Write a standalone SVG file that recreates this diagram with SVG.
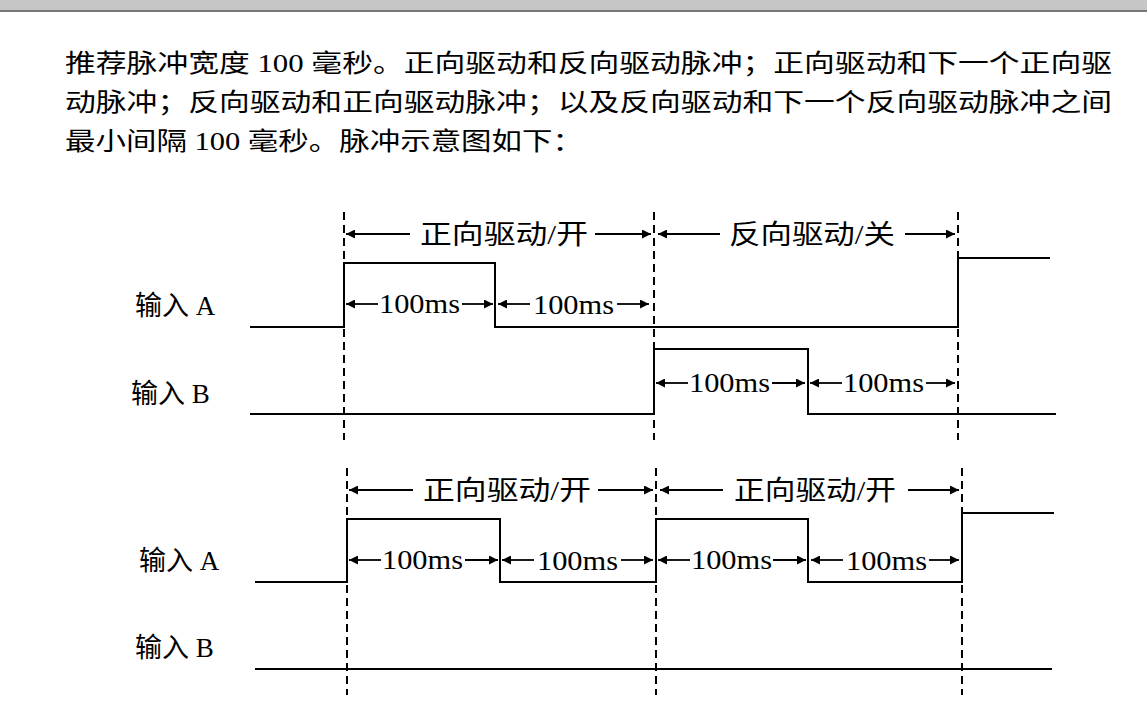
<svg xmlns="http://www.w3.org/2000/svg" width="1147" height="727" viewBox="0 0 1147 727">
<defs>
<marker id="ah" viewBox="0 0 10 10" refX="10" refY="5" markerWidth="12" markerHeight="9" markerUnits="userSpaceOnUse" orient="auto"><path d="M0,0L10,5L0,10z" fill="#000"/></marker>
</defs>
<style>
.t{font-family:"Liberation Serif","Noto Sans CJK SC",serif;fill:#000}
.p{font-size:25px}
.l{font-size:27px}
.m{font-size:28px}
.w{fill:none;stroke:#000;stroke-width:2}
.d{stroke:#000;stroke-width:2;stroke-dasharray:8,5}
.a{stroke:#000;stroke-width:1.8;marker-end:url(#ah)}
</style>
<rect width="1147" height="727" fill="#fff"/>
<rect width="1147" height="10" fill="#c6c6c6"/>
<rect y="10" width="1147" height="2" fill="#777"/>
<g id="para" class="t p">
<text x="65" y="72" textLength="1047" lengthAdjust="spacingAndGlyphs">推荐脉冲宽度 100 毫秒。正向驱动和反向驱动脉冲；正向驱动和下一个正向驱</text>
<text x="65" y="111" textLength="1047" lengthAdjust="spacingAndGlyphs">动脉冲；反向驱动和正向驱动脉冲；以及反向驱动和下一个反向驱动脉冲之间</text>
<text x="65" y="150" textLength="518" lengthAdjust="spacingAndGlyphs">最小间隔 100 毫秒。脉冲示意图如下：</text>
</g>
<g id="diagram1">
<line class="d" x1="344" y1="212" x2="344" y2="440"/>
<line class="d" x1="654" y1="212" x2="654" y2="440"/>
<line class="d" x1="958" y1="212" x2="958" y2="440"/>
<polyline class="w" points="250,327 344,327 344,263 495,263 495,327 958,327 958,258 1050,258"/>
<polyline class="w" points="250,414 654,414 654,349 808,349 808,414 1056,414"/>
<text class="t l" x="135" y="315">输入 A</text>
<text class="t l" x="131" y="403">输入 B</text>
<line class="a" x1="410" y1="234" x2="346" y2="234"/>
<text class="t l" x="420" y="244" textLength="168" lengthAdjust="spacingAndGlyphs">正向驱动/开</text>
<line class="a" x1="595" y1="234" x2="651" y2="234"/>
<line class="a" x1="720" y1="234" x2="658" y2="234"/>
<text class="t l" x="729" y="244" textLength="166" lengthAdjust="spacingAndGlyphs">反向驱动/关</text>
<line class="a" x1="905" y1="234" x2="955" y2="234"/>
<line class="a" x1="378" y1="304" x2="346" y2="304"/>
<text class="t m" x="379" y="313" textLength="81" lengthAdjust="spacingAndGlyphs">100ms</text>
<line class="a" x1="462" y1="304" x2="493" y2="304"/>
<line class="a" x1="530" y1="304" x2="498" y2="304"/>
<text class="t m" x="533" y="314" textLength="81" lengthAdjust="spacingAndGlyphs">100ms</text>
<line class="a" x1="617" y1="304" x2="649" y2="304"/>
<line class="a" x1="688" y1="383" x2="656" y2="383"/>
<text class="t m" x="689" y="392" textLength="81" lengthAdjust="spacingAndGlyphs">100ms</text>
<line class="a" x1="772" y1="383" x2="805" y2="383"/>
<line class="a" x1="842" y1="383" x2="810" y2="383"/>
<text class="t m" x="843" y="392" textLength="81" lengthAdjust="spacingAndGlyphs">100ms</text>
<line class="a" x1="926" y1="383" x2="955" y2="383"/>
</g>
<g id="diagram2">
<line class="d" x1="347" y1="468" x2="347" y2="695"/>
<line class="d" x1="656" y1="468" x2="656" y2="695"/>
<line class="d" x1="962" y1="468" x2="962" y2="695"/>
<polyline class="w" points="255,582 347,582 347,519 500,519 500,582 656,582 656,519 808,519 808,582 962,582 962,513 1054,513"/>
<line class="w" x1="255" y1="669" x2="1052" y2="669"/>
<text class="t l" x="139" y="570">输入 A</text>
<text class="t l" x="135" y="657">输入 B</text>
<line class="a" x1="413" y1="490" x2="349" y2="490"/>
<text class="t l" x="423" y="500" textLength="168" lengthAdjust="spacingAndGlyphs">正向驱动/开</text>
<line class="a" x1="598" y1="490" x2="653" y2="490"/>
<line class="a" x1="723" y1="490" x2="660" y2="490"/>
<text class="t l" x="734" y="500" textLength="162" lengthAdjust="spacingAndGlyphs">正向驱动/开</text>
<line class="a" x1="908" y1="490" x2="959" y2="490"/>
<line class="a" x1="381" y1="560" x2="349" y2="560"/>
<text class="t m" x="382" y="569" textLength="81" lengthAdjust="spacingAndGlyphs">100ms</text>
<line class="a" x1="465" y1="560" x2="498" y2="560"/>
<line class="a" x1="534" y1="560" x2="502" y2="560"/>
<text class="t m" x="537" y="570" textLength="81" lengthAdjust="spacingAndGlyphs">100ms</text>
<line class="a" x1="621" y1="560" x2="653" y2="560"/>
<line class="a" x1="690" y1="560" x2="658" y2="560"/>
<text class="t m" x="691" y="569" textLength="81" lengthAdjust="spacingAndGlyphs">100ms</text>
<line class="a" x1="773" y1="560" x2="806" y2="560"/>
<line class="a" x1="843" y1="560" x2="811" y2="560"/>
<text class="t m" x="846" y="570" textLength="81" lengthAdjust="spacingAndGlyphs">100ms</text>
<line class="a" x1="929" y1="560" x2="959" y2="560"/>
</g>
</svg>
